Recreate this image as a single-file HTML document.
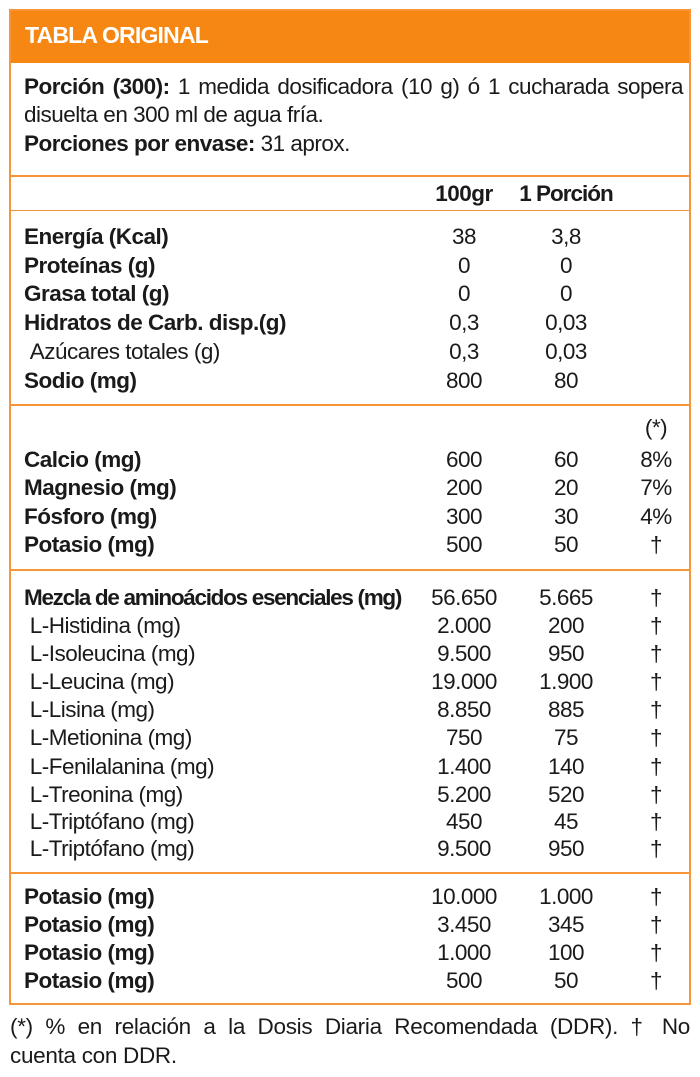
<!DOCTYPE html>
<html><head><meta charset="utf-8"><style>
body{margin:0;width:700px;height:1077px;background:#fff;position:relative;font-family:"Liberation Sans",sans-serif;color:#1a1a1a;overflow:hidden}
.box{position:absolute;left:9px;top:9px;width:678px;height:992px;border:2px solid #f7953a}
.hdr{position:absolute;left:9px;top:9px;width:682px;height:54px;background:#f68712}
.hdr span{position:absolute;left:16px;top:13px;color:#fff;font-weight:bold;font-size:23px;letter-spacing:-0.8px}
.ln{position:absolute;left:9px;width:682px;height:2px;background:#f7953a}
.r{position:absolute;height:28px;line-height:28px;font-size:22.5px;white-space:nowrap;letter-spacing:-0.5px}
.l{left:24px}
.b{font-weight:bold}
.c{width:120px;text-align:center}
.c1{left:404px}.c2{left:506px}.c3{left:616px;width:80px}
.t{position:absolute;left:24px;font-size:22.5px;letter-spacing:-0.5px;white-space:nowrap}
</style></head><body>
<div class="hdr"><span>TABLA ORIGINAL</span></div>
<div class="box"></div>
<div class="t" style="top:74px;width:659px;white-space:normal;text-align:justify;text-align-last:justify;height:28px"><b>Porción (300):</b> 1 medida dosificadora (10 g) ó 1 cucharada sopera</div>
<div class="t" style="top:102px">disuelta en 300 ml de agua fría.</div>
<div class="t" style="top:131px"><b>Porciones por envase:</b> 31 aprox.</div>
<div class="ln" style="top:175px"></div>
<div class="r b c c1" style="top:180px">100gr</div><div class="r b c c2" style="top:180px;letter-spacing:-1px">1 Porción</div>
<div class="ln" style="top:210px;height:1px"></div>
<div class="ln" style="top:404px"></div>
<div class="ln" style="top:569px"></div>
<div class="ln" style="top:872px"></div>
<div id="rows"></div>
<div style="position:absolute;left:10px;top:1012px;width:680px;font-size:22.5px;line-height:29px;letter-spacing:-0.3px">
<div style="text-align:justify;text-align-last:justify;height:29px">(*) % en relación a la Dosis Diaria Recomendada (DDR). † No</div>
<div>cuenta con DDR.</div></div>
<script>
var R=[
[237,"Energía (Kcal)",1,"38","3,8",""],
[266,"Proteínas (g)",1,"0","0",""],
[294,"Grasa total (g)",1,"0","0",""],
[323,"Hidratos de Carb. disp.(g)",1,"0,3","0,03",""],
[352,"&nbsp;Azúcares totales (g)",0,"0,3","0,03",""],
[381,"Sodio (mg)",1,"800","80",""],
[428,"",0,"","","(*)"],
[460,"Calcio (mg)",1,"600","60","8%"],
[488,"Magnesio (mg)",1,"200","20","7%"],
[517,"Fósforo (mg)",1,"300","30","4%"],
[545,"Potasio (mg)",1,"500","50","†"],
[598,"<span style='letter-spacing:-1.3px'>Mezcla de aminoácidos esenciales (mg)</span>",1,"56.650","5.665","†"],
[626,"&nbsp;L-Histidina (mg)",0,"2.000","200","†"],
[654,"&nbsp;L-Isoleucina (mg)",0,"9.500","950","†"],
[682,"&nbsp;L-Leucina (mg)",0,"19.000","1.900","†"],
[710,"&nbsp;L-Lisina (mg)",0,"8.850","885","†"],
[738,"&nbsp;L-Metionina (mg)",0,"750","75","†"],
[767,"&nbsp;L-Fenilalanina (mg)",0,"1.400","140","†"],
[795,"&nbsp;L-Treonina (mg)",0,"5.200","520","†"],
[822,"&nbsp;L-Triptófano (mg)",0,"450","45","†"],
[849,"&nbsp;L-Triptófano (mg)",0,"9.500","950","†"],
[897,"Potasio (mg)",1,"10.000","1.000","†"],
[925,"Potasio (mg)",1,"3.450","345","†"],
[953,"Potasio (mg)",1,"1.000","100","†"],
[981,"Potasio (mg)",1,"500","50","†"]];
var h="";
R.forEach(function(a){var t=a[0]-14;
h+='<div class="r l'+(a[2]?' b':'')+'" style="top:'+t+'px">'+a[1]+'</div>';
h+='<div class="r c c1" style="top:'+t+'px">'+a[3]+'</div>';
h+='<div class="r c c2" style="top:'+t+'px">'+a[4]+'</div>';
h+='<div class="r c c3" style="top:'+t+'px">'+a[5]+'</div>';});
document.getElementById("rows").innerHTML=h;
</script>
</body></html>
